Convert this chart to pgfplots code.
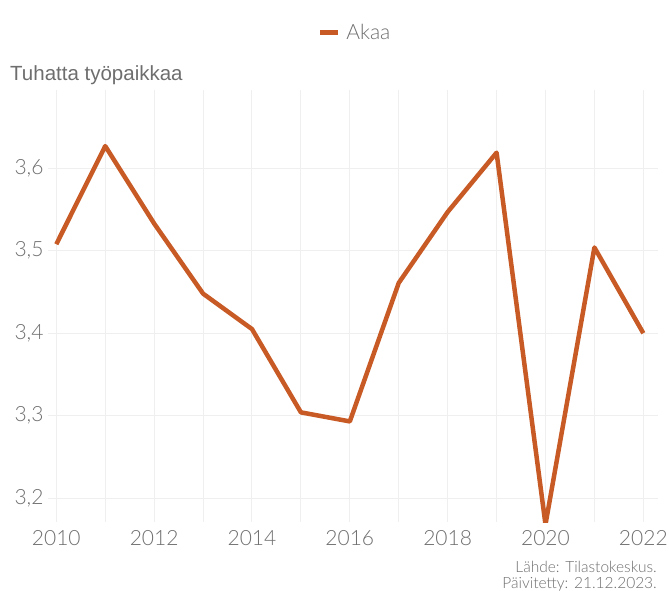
\documentclass[border=0pt]{standalone}
\usepackage{pgfplots}
\pgfplotsset{compat=1.18}
\usepackage{fontspec}
\setmainfont{Lato}[UprightFont=* Light]
\newfontfamily\arialfont{Liberation Sans}
\definecolor{linec}{HTML}{C85A26}
\definecolor{txt}{HTML}{6E6E6E}
\definecolor{gridc}{HTML}{EFEFEF}
\begin{document}
\begin{tikzpicture}
\useasboundingbox (-48pt,-68pt) rectangle (621pt,522pt);
\begin{axis}[
  at={(0,0)}, anchor=south west,
  scale only axis,
  width=610pt, height=432pt,
  xmin=2009.83, xmax=2022.3,
  ymin=3.171, ymax=3.695,
  axis line style={draw=none},
  tick style={draw=none},
  xtick={2010,2012,...,2022},
  minor xtick={2011,2013,...,2021},
  ytick={3.2,3.3,3.4,3.5,3.6},
  xmajorgrids, xminorgrids, ymajorgrids,
  grid style={gridc, line width=1pt},
  minor grid style={gridc, line width=1pt},
  /pgf/number format/assume math mode=true,
  xticklabel style={/pgf/number format/1000 sep={}, font=\fontsize{21}{24}\selectfont, text=txt, yshift=-5pt},
  yticklabel style={/pgf/number format/use comma, /pgf/number format/fixed, /pgf/number format/precision=1, /pgf/number format/fixed zerofill, font=\fontsize{21}{24}\selectfont, text=txt, xshift=-1pt},
  legend style={at={(0.503,1.132)}, anchor=center, draw=none, fill=none, font=\fontsize{21}{24}\selectfont, text=txt},
  legend image code/.code={\draw[line width=5pt, linec] (-2pt,0pt) -- (16pt,0pt);},
  clip=true,
]
\addplot[linec, line width=4.5pt, line join=round] coordinates {
(2010,3.508) (2011,3.627) (2012,3.533) (2013,3.448) (2014,3.405) (2015,3.304)
(2016,3.293) (2017,3.461) (2018,3.547) (2019,3.619) (2020,3.168) (2021,3.504) (2022,3.400)
};
\addlegendentry{\hspace{4pt}Akaa}
\end{axis}
\node[anchor=west, text=txt, font=\arialfont\fontsize{20.5}{23}\selectfont, inner sep=0pt] at (-38pt,447pt) {Tuhatta työpaikkaa};
\node[anchor=north east, align=right, text=txt, font=\fontsize{15.5}{16}\selectfont, inner sep=0pt] at (609pt,-39pt) {Lähde: Tilastokeskus.\\Päivitetty: 21.12.2023.};
\end{tikzpicture}
\end{document}
